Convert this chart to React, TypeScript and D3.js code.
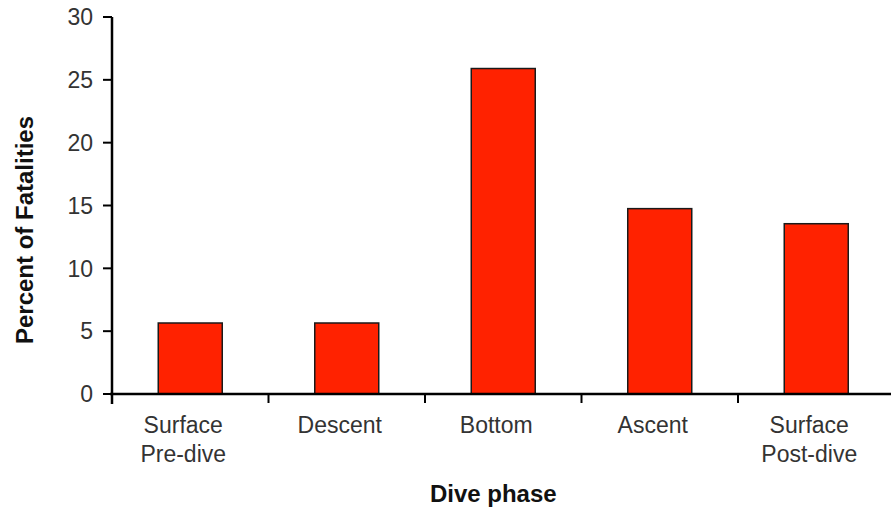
import React from "react";
import * as d3 from "d3";

const categories: string[][] = [
  ["Surface", "Pre-dive"],
  ["Descent"],
  ["Bottom"],
  ["Ascent"],
  ["Surface", "Post-dive"],
];
const values: number[] = [5.65, 5.65, 25.9, 14.75, 13.55];
const yTicks: number[] = [0, 5, 10, 15, 20, 25, 30];
const yTitle = "Percent of Fatalities";
const xTitle = "Dive phase";

const W = 891;
const H = 510;
const left = 112;
const right = 894.5;
const top = 17;
const bottom = 394;
const FONT = "'Liberation Sans', Arial, Helvetica, sans-serif";

export default function App() {
  const x = d3
    .scaleBand<number>()
    .domain(categories.map((_, i) => i))
    .range([left, right])
    .padding(0);
  const y = d3.scaleLinear().domain([0, 30]).range([bottom, top]);
  const barW = 64;
  const bw = x.bandwidth();

  return (
    <div style={{ position: "absolute", left: 0, top: 0 }}>
      <svg width={W} height={H} style={{ display: "block", background: "#fff" }}>
        {/* bars */}
        {values.map((v, i) => {
          const cx = (x(i) as number) + bw / 2;
          return (
            <rect
              key={i}
              x={cx - barW / 2}
              y={y(v)}
              width={barW}
              height={y(0) - y(v)}
              fill="#ff2200"
              stroke="#1a1a1a"
              strokeWidth={1.5}
            />
          );
        })}
        {/* y axis */}
        <line x1={left} x2={left} y1={top} y2={bottom + 10} stroke="#000" strokeWidth={2.5} />
        {yTicks.map((t) => (
          <g key={t}>
            <line x1={left - 9} x2={left} y1={y(t)} y2={y(t)} stroke="#000" strokeWidth={2} />
            <text
              x={93}
              y={y(t)}
              dy="0.36em"
              textAnchor="end"
              fontFamily={FONT}
              fontSize={23}
              fill="#333"
            >
              {t}
            </text>
          </g>
        ))}
        {/* x axis */}
        <line x1={left - 2} x2={right} y1={bottom} y2={bottom} stroke="#000" strokeWidth={2.5} />
        {categories.map((_, i) => (
          <line
            key={i}
            x1={x(i) as number}
            x2={x(i) as number}
            y1={bottom}
            y2={bottom + 9}
            stroke="#000"
            strokeWidth={2}
          />
        ))}
        {categories.map((lines, i) => {
          const cx = (x(i) as number) + bw / 2 - 7;
          return (
            <text
              key={i}
              textAnchor="middle"
              fontFamily={FONT}
              fontSize={23}
              fill="#333"
            >
              {lines.map((l, j) => (
                <tspan key={j} x={cx} y={433 + j * 29}>
                  {l}
                </tspan>
              ))}
            </text>
          );
        })}
        {/* titles */}
        <text
          x={(left + right) / 2 - 10}
          y={502}
          textAnchor="middle"
          fontFamily={FONT}
          fontSize={24}
          fontWeight="bold"
          fill="#111"
        >
          {xTitle}
        </text>
        <text
          transform={`translate(33, 230) rotate(-90)`}
          textAnchor="middle"
          fontFamily={FONT}
          fontSize={24}
          fontWeight="bold"
          fill="#111"
        >
          {yTitle}
        </text>
      </svg>
    </div>
  );
}
